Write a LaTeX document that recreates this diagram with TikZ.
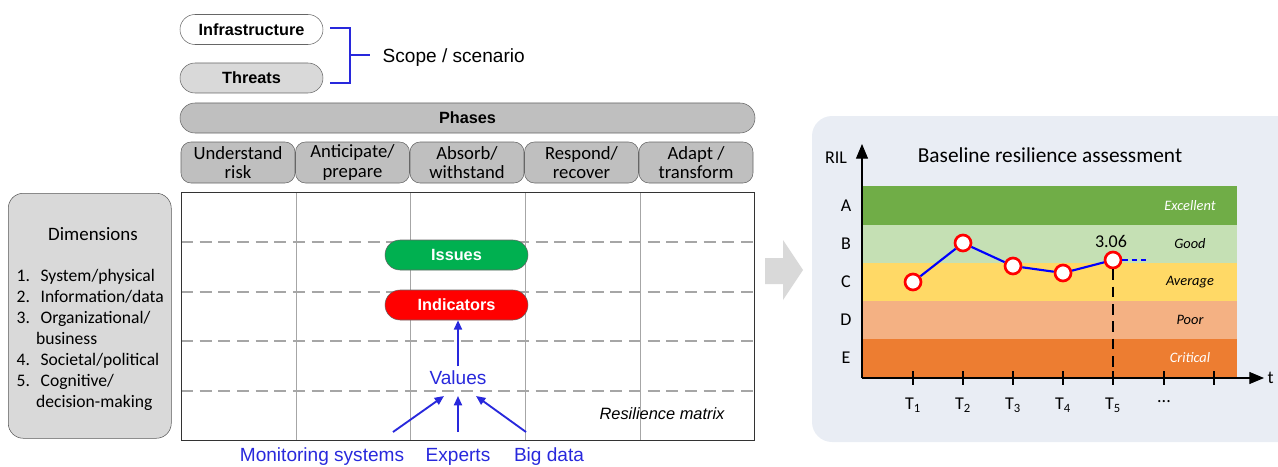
\documentclass[tikz,border=0pt]{standalone}
\usepackage{fontspec}
\setmainfont{Carlito}
\newfontfamily\tahoma{Liberation Sans}
\definecolor{rm_pill}{RGB}{191, 191, 191}
\definecolor{rm_light}{RGB}{217, 217, 217}
\definecolor{rm_green}{RGB}{0, 176, 80}
\definecolor{rm_red}{RGB}{255, 0, 0}
\definecolor{rm_blue}{RGB}{40, 40, 220}
\definecolor{rm_panel}{RGB}{233, 237, 244}
\definecolor{band_a}{RGB}{112, 173, 71}
\definecolor{band_b}{RGB}{197, 224, 180}
\definecolor{band_c}{RGB}{255, 217, 102}
\definecolor{band_d}{RGB}{244, 177, 131}
\definecolor{band_e}{RGB}{237, 125, 49}
\usetikzlibrary{arrows.meta, positioning}

\begin{document}
\begin{tikzpicture}[x=0.75pt, y=-0.75pt,
    pill/.style={draw=gray!80!black, rounded corners=15pt*0.75, minimum height=30pt*0.75,
      inner sep=0pt, font=\tahoma\bfseries\fontsize{12.2}{12}\selectfont},
    phasebox/.style={draw=gray!80!black, fill=rm_pill, rounded corners=10pt*0.75,
      minimum width=114pt*0.75, minimum height=41pt*0.75, inner sep=0pt, align=center,
      font=\fontsize{14}{14.5}\selectfont},
    srclabel/.style={text=rm_blue, font=\tahoma\fontsize{14.3}{15}\selectfont},
    srcarrow/.style={-{Triangle[width=6pt,length=7pt]}, rm_blue, line width=1.4pt},
    bandlabel/.style={font=\itshape\fontsize{10.8}{12}\selectfont},
    pt/.style={circle, draw=rm_red, fill=white, line width=2pt, minimum size=16pt*0.75, inner sep=0pt}]
  \useasboundingbox (0,0) rectangle (1278,467);
  \clip (0,0) rectangle (1278,467);
  % Scope / scenario
  \node[pill, fill=white, minimum width=143pt*0.75] (infra) at (251.5,29.5) {Infrastructure};
  \node[pill, fill=rm_light, minimum width=143pt*0.75] (threats) at (251.5,78) {Threats};
  \draw[rm_blue, thick] (330,28) -- (350,28) -- (350,83) -- (330,83);
  \draw[rm_blue, thick] (350,55) -- (370,55);
  \node[anchor=west, font=\tahoma\fontsize{14.3}{15}\selectfont] (scope) at (378,58) {Scope / scenario};
  % Phases
  \node[pill, fill=rm_pill, minimum width=575pt*0.75] (phases) at (467.5,118) {Phases};
  \node[phasebox] (ph1) at (238,162.5) {Understand\\risk};
  \node[phasebox] (ph2) at (352.5,162.5) {Anticipate/\\prepare};
  \node[phasebox] (ph3) at (467,162.5) {Absorb/\\withstand};
  \node[phasebox] (ph4) at (581.5,162.5) {Respond/\\recover};
  \node[phasebox] (ph5) at (696,162.5) {Adapt /\\transform};
  % Dimensions
  \node[draw=gray!70!black, fill=rm_light, rounded corners=15pt*0.75, minimum width=163pt*0.75,
    minimum height=245pt*0.75, anchor=north west] (dims) at (8,193) {};
  \node[font=\fontsize{14.2}{15}\selectfont] (dimtitle) at (93,234) {Dimensions};
  \node[anchor=north west, align=left, font=\fontsize{13.2}{15.7}\selectfont] (dimlist) at (12,265)
    {1.\hspace{0.6em}System/physical\\2.\hspace{0.6em}Information/data\\3.\hspace{0.6em}Organizational/\\
     \hspace{1.1em}business\\4.\hspace{0.6em}Societal/political\\5.\hspace{0.6em}Cognitive/\\
     \hspace{1.1em}decision-making};
  % Resilience matrix
  \foreach \x in {296,410,525,640}
    \draw[gray!70] (\x,192) -- (\x,440);
  \foreach \y in {242,292,341,391}
    \draw[gray!70, line width=1.6pt, dash pattern=on 9pt off 5pt] (181,\y) -- (754,\y);
  \node[draw=black!80, thick, minimum width=573pt*0.75, minimum height=248pt*0.75,
    anchor=north west, inner sep=0pt] (matrix) at (181,192) {};
  \node[pill, fill=rm_green, text=white, minimum width=143pt*0.75] (issues) at (456.5,255) {Issues};
  \node[pill, fill=rm_red, text=white, minimum width=143pt*0.75] (ind) at (456.5,305) {Indicators};
  \node[srclabel] (values) at (458,378) {Values};
  \node[font=\tahoma\itshape\fontsize{12.3}{13}\selectfont] (rmlabel) at (662,414) {Resilience matrix};
  \draw[srcarrow] (values.north) -- (values.north |- ind.south);
  \node[srclabel] (mon) at (322,457) {Monitoring systems};
  \node[srclabel] (exp) at (458,457) {Experts};
  \node[srclabel] (big) at (549,457) {Big data};
  \coordinate (monend) at (393,432);
  \coordinate (expend) at (458,432);
  \coordinate (bigend) at (526,432);
  \draw[srcarrow] (monend) -- (444,396);
  \draw[srcarrow] (expend) -- (458,396);
  \draw[srcarrow] (bigend) -- (476,396);
  % big arrow
  \fill[rm_light] (765,258) -- (783,258) -- (783,240) -- (803,270) -- (783,300) -- (783,284)
    -- (765,284) -- cycle;
  % Baseline panel
  \fill[rm_panel, rounded corners=20pt*0.75] (812,116) rectangle (1310,442);
  \node[font=\fontsize{16}{17}\selectfont] (title) at (1050,155) {Baseline resilience assessment};
  \fill[band_a] (863,186) rectangle (1237,225);
  \fill[band_b] (863,225) rectangle (1237,263);
  \fill[band_c] (863,263) rectangle (1237,301);
  \fill[band_d] (863,301) rectangle (1237,339);
  \fill[band_e] (863,339) rectangle (1237,378);
  \foreach \l/\y in {A/206,B/244,C/282,D/320,E/358}
    \node[font=\fontsize{13.5}{14}\selectfont] (lev\l) at (846,\y) {\l};
  \node[bandlabel, text=white] (exc) at (1190,206) {Excellent};
  \node[bandlabel] (good) at (1190,244) {Good};
  \node[bandlabel] (avg) at (1190,282) {Average};
  \node[bandlabel] (poor) at (1190,320) {Poor};
  \node[bandlabel, text=white] (crit) at (1190,358) {Critical};
  % axes
  \coordinate (orig) at (862,378);
  \draw[thick, -{Triangle[width=9pt,length=11pt]}] (orig) -- (862,144);
  \draw[thick, -{Triangle[width=9pt,length=11pt]}] (orig) -- (1264,378);
  \node[font=\fontsize{13.5}{14}\selectfont] (ril) at (836,158) {RIL};
  \node[font=\fontsize{13.5}{14}\selectfont, anchor=west, inner sep=1pt] (tlab) at (1266,378) {t};
  \foreach \x in {913,963,1013,1063,1113,1164,1214}
    \draw[thick] (\x,371) -- (\x,385);
  \foreach \i/\x in {1/913,2/963,3/1013,4/1063,5/1113}
    \node[font=\fontsize{13.5}{14}\selectfont] (t\i) at (\x,405) {T\textsubscript{\i}};
  \node[font=\fontsize{13.5}{14}\selectfont] (tdots) at (1164,402) {...};
  % assessment curve
  \node[pt] (p1) at (913,282) {};
  \node[pt] (p2) at (963,243) {};
  \node[pt] (p3) at (1013,266) {};
  \node[pt] (p4) at (1063,273) {};
  \node[pt] (p5) at (1113,260) {};
  \coordinate (pend) at (1147,260);
  \coordinate (paxis) at (1113,378);
  \draw[blue, line width=1.6pt] (p1) -- (p2) -- (p3) -- (p4) -- (p5);
  \draw[blue, line width=1.6pt, dash pattern=on 4pt off 3pt] (p5) -- (pend);
  \draw[thick, dash pattern=on 8pt off 5pt] (p5) -- (paxis);
  \node[font=\fontsize{13.5}{14}\selectfont] (val) at (1111,241) {3.06};
\end{tikzpicture}
\end{document}
